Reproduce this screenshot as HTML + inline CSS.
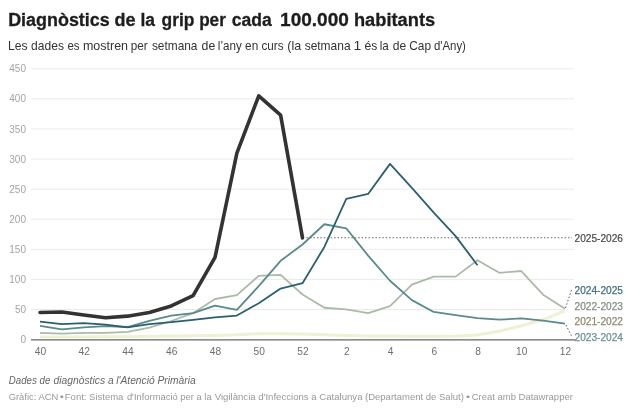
<!DOCTYPE html>
<html><head><meta charset="utf-8">
<style>
html,body{margin:0;padding:0;background:#fff;}
body{width:640px;height:411px;overflow:hidden;}
svg{display:block;will-change:transform;}
text{font-family:"Liberation Sans",sans-serif;}
.ax{font-size:10px;fill:#a4a4a4;}
.xl{font-size:10.2px;fill:#6e6e6e;}
.lb{font-size:10.15px;}
.halo{fill:#fff;stroke:#fff;stroke-width:3px;stroke-linejoin:round;}
</style></head><body>
<svg width="640" height="411" viewBox="0 0 640 411">
<text x="8.19" y="25.50" textLength="101.54" lengthAdjust="spacingAndGlyphs" style="font-weight:bold;fill:#1d1d1d;stroke:#1d1d1d;stroke-width:0.3px;font-size:18px">Diagnòstics</text>
<text x="114.53" y="25.50" textLength="21.10" lengthAdjust="spacingAndGlyphs" style="font-weight:bold;fill:#1d1d1d;stroke:#1d1d1d;stroke-width:0.3px;font-size:18px">de</text>
<text x="140.38" y="25.50" textLength="14.51" lengthAdjust="spacingAndGlyphs" style="font-weight:bold;fill:#1d1d1d;stroke:#1d1d1d;stroke-width:0.3px;font-size:18px">la</text>
<text x="161.55" y="25.50" textLength="32.92" lengthAdjust="spacingAndGlyphs" style="font-weight:bold;fill:#1d1d1d;stroke:#1d1d1d;stroke-width:0.3px;font-size:18px">grip</text>
<text x="199.13" y="25.50" textLength="26.70" lengthAdjust="spacingAndGlyphs" style="font-weight:bold;fill:#1d1d1d;stroke:#1d1d1d;stroke-width:0.3px;font-size:18px">per</text>
<text x="231.80" y="25.50" textLength="40.00" lengthAdjust="spacingAndGlyphs" style="font-weight:bold;fill:#1d1d1d;stroke:#1d1d1d;stroke-width:0.3px;font-size:18px">cada</text>
<text x="280.06" y="25.50" textLength="68.85" lengthAdjust="spacingAndGlyphs" style="font-weight:bold;fill:#1d1d1d;stroke:#1d1d1d;stroke-width:0.3px;font-size:18px">100.000</text>
<text x="353.97" y="25.50" textLength="81.16" lengthAdjust="spacingAndGlyphs" style="font-weight:bold;fill:#1d1d1d;stroke:#1d1d1d;stroke-width:0.3px;font-size:18px">habitants</text>
<text x="8.10" y="50.40" textLength="19.57" lengthAdjust="spacingAndGlyphs" style="fill:#333;font-size:11.9px">Les</text>
<text x="31.09" y="50.40" textLength="32.83" lengthAdjust="spacingAndGlyphs" style="fill:#333;font-size:11.9px">dades</text>
<text x="67.41" y="50.40" textLength="12.10" lengthAdjust="spacingAndGlyphs" style="fill:#333;font-size:11.9px">es</text>
<text x="82.91" y="50.40" textLength="45.15" lengthAdjust="spacingAndGlyphs" style="fill:#333;font-size:11.9px">mostren</text>
<text x="130.74" y="50.40" textLength="16.94" lengthAdjust="spacingAndGlyphs" style="fill:#333;font-size:11.9px">per</text>
<text x="151.92" y="50.40" textLength="45.55" lengthAdjust="spacingAndGlyphs" style="fill:#333;font-size:11.9px">setmana</text>
<text x="201.58" y="50.40" textLength="13.73" lengthAdjust="spacingAndGlyphs" style="fill:#333;font-size:11.9px">de</text>
<text x="217.87" y="50.40" textLength="23.85" lengthAdjust="spacingAndGlyphs" style="fill:#333;font-size:11.9px">l’any</text>
<text x="245.10" y="50.40" textLength="13.17" lengthAdjust="spacingAndGlyphs" style="fill:#333;font-size:11.9px">en</text>
<text x="261.40" y="50.40" textLength="22.10" lengthAdjust="spacingAndGlyphs" style="fill:#333;font-size:11.9px">curs</text>
<text x="287.32" y="50.40" textLength="13.92" lengthAdjust="spacingAndGlyphs" style="fill:#333;font-size:11.9px">(la</text>
<text x="304.67" y="50.40" textLength="45.91" lengthAdjust="spacingAndGlyphs" style="fill:#333;font-size:11.9px">setmana</text>
<text x="353.56" y="50.40" textLength="7.72" lengthAdjust="spacingAndGlyphs" style="fill:#333;font-size:11.9px">1</text>
<text x="364.59" y="50.40" textLength="12.75" lengthAdjust="spacingAndGlyphs" style="fill:#333;font-size:11.9px">és</text>
<text x="379.71" y="50.40" textLength="9.07" lengthAdjust="spacingAndGlyphs" style="fill:#333;font-size:11.9px">la</text>
<text x="392.89" y="50.40" textLength="13.46" lengthAdjust="spacingAndGlyphs" style="fill:#333;font-size:11.9px">de</text>
<text x="409.31" y="50.40" textLength="21.79" lengthAdjust="spacingAndGlyphs" style="fill:#333;font-size:11.9px">Cap</text>
<text x="433.91" y="50.40" textLength="32.03" lengthAdjust="spacingAndGlyphs" style="fill:#333;font-size:11.9px">d'Any)</text>

<line x1="31" x2="565" y1="309.55" y2="309.55" stroke="#ebebeb" stroke-width="1"/>
<line x1="31" x2="574" y1="279.45" y2="279.45" stroke="#ebebeb" stroke-width="1"/>
<line x1="31" x2="574" y1="249.35" y2="249.35" stroke="#ebebeb" stroke-width="1"/>
<line x1="31" x2="574" y1="219.25" y2="219.25" stroke="#ebebeb" stroke-width="1"/>
<line x1="31" x2="574" y1="189.15" y2="189.15" stroke="#ebebeb" stroke-width="1"/>
<line x1="31" x2="574" y1="159.05" y2="159.05" stroke="#ebebeb" stroke-width="1"/>
<line x1="31" x2="574" y1="128.95" y2="128.95" stroke="#ebebeb" stroke-width="1"/>
<line x1="31" x2="574" y1="98.85" y2="98.85" stroke="#ebebeb" stroke-width="1"/>
<line x1="31" x2="574" y1="68.75" y2="68.75" stroke="#ebebeb" stroke-width="1"/>
<text x="26" y="343.25" text-anchor="end" class="ax">0</text>
<text x="26" y="313.15" text-anchor="end" class="ax">50</text>
<text x="26" y="283.05" text-anchor="end" class="ax">100</text>
<text x="26" y="252.95" text-anchor="end" class="ax">150</text>
<text x="26" y="222.85" text-anchor="end" class="ax">200</text>
<text x="26" y="192.75" text-anchor="end" class="ax">250</text>
<text x="26" y="162.65" text-anchor="end" class="ax">300</text>
<text x="26" y="132.55" text-anchor="end" class="ax">350</text>
<text x="26" y="102.45" text-anchor="end" class="ax">400</text>
<text x="26" y="72.35" text-anchor="end" class="ax">450</text>
<text x="40.50" y="354.6" text-anchor="middle" class="xl">40</text>
<text x="84.25" y="354.6" text-anchor="middle" class="xl">42</text>
<text x="128.00" y="354.6" text-anchor="middle" class="xl">44</text>
<text x="171.75" y="354.6" text-anchor="middle" class="xl">46</text>
<text x="215.50" y="354.6" text-anchor="middle" class="xl">48</text>
<text x="259.25" y="354.6" text-anchor="middle" class="xl">50</text>
<text x="303.00" y="354.6" text-anchor="middle" class="xl">52</text>
<text x="346.75" y="354.6" text-anchor="middle" class="xl">2</text>
<text x="390.50" y="354.6" text-anchor="middle" class="xl">4</text>
<text x="434.25" y="354.6" text-anchor="middle" class="xl">6</text>
<text x="478.00" y="354.6" text-anchor="middle" class="xl">8</text>
<text x="521.75" y="354.6" text-anchor="middle" class="xl">10</text>
<text x="565.50" y="354.6" text-anchor="middle" class="xl">12</text>

<line x1="31" x2="575" y1="339.9" y2="339.9" stroke="#666" stroke-width="1.25"/>
<polyline points="40.00,336.94 61.88,336.94 83.75,336.94 105.62,336.64 127.50,336.64 149.38,336.34 171.25,336.04 193.12,335.74 215.00,335.44 236.88,334.83 258.75,333.63 280.62,333.63 302.50,333.93 324.38,334.83 346.25,335.44 368.12,336.04 390.00,336.04 411.88,336.28 433.75,336.28 455.62,336.04 477.50,335.07 499.38,331.22 521.25,325.80 543.12,319.78 565.00,310.75" fill="none" stroke="#eef1d4" stroke-width="3" stroke-linejoin="round"/>
<polyline points="40.00,332.79 61.88,333.57 83.75,332.79 105.62,332.79 127.50,331.94 149.38,327.61 171.25,320.99 193.12,313.16 215.00,299.01 236.88,295.10 258.75,275.84 280.62,274.87 302.50,294.50 324.38,307.74 346.25,309.31 368.12,313.16 390.00,306.06 411.88,284.69 433.75,276.62 455.62,276.62 477.50,260.19 499.38,272.83 521.25,271.02 543.12,294.68 565.00,308.77" fill="none" stroke="#aabba7" stroke-width="1.8" stroke-linejoin="round"/>
<polyline points="40.00,325.98 61.88,329.42 83.75,327.31 105.62,326.04 127.50,327.01 149.38,320.99 171.25,315.57 193.12,313.16 215.00,305.58 236.88,309.85 258.75,286.07 280.62,260.79 302.50,244.53 324.38,224.25 346.25,228.28 368.12,255.61 390.00,280.77 411.88,300.10 433.75,311.96 455.62,315.09 477.50,318.16 499.38,319.66 521.25,318.46 543.12,320.69 565.00,323.58" fill="none" stroke="#5a8a8a" stroke-width="1.8" stroke-linejoin="round"/>
<polyline points="40.00,321.65 61.88,324.06 83.75,323.16 105.62,324.60 127.50,327.31 149.38,324.06 171.25,322.19 193.12,319.78 215.00,317.38 236.88,315.57 258.75,303.23 280.62,288.60 302.50,283.24 324.38,246.94 346.25,198.78 368.12,193.97 390.00,163.87 411.88,187.95 433.75,212.63 455.62,236.11 477.50,265.30" fill="none" stroke="#2a6070" stroke-width="1.8" stroke-linejoin="round"/>
<polyline points="40.00,312.56 61.88,311.96 83.75,314.97 105.62,317.68 127.50,316.17 149.38,312.56 171.25,305.94 193.12,295.70 215.00,257.48 236.88,153.03 258.75,95.84 280.62,115.10 302.50,237.91" fill="none" stroke="#333333" stroke-width="3.6" stroke-linejoin="round" stroke-linecap="round"/>
<line x1="306.6" x2="572" y1="237.8" y2="237.8" stroke="#666" stroke-width="1.1" stroke-dasharray="1.5 1.94"/>
<line x1="565.5" y1="308" x2="571.5" y2="290" stroke="#555" stroke-width="1" stroke-dasharray="1.5 2"/>
<line x1="566" y1="325" x2="572" y2="337" stroke="#555" stroke-width="1" stroke-dasharray="1.5 2"/>
<text x="574.5" y="241.6" class="lb halo">2025-2026</text>
<text x="574.5" y="241.6" class="lb" style="fill:#4a4a4a;stroke:#4a4a4a;stroke-width:0.2px">2025-2026</text>
<text x="574.5" y="294" class="lb halo">2024-2025</text>
<text x="574.5" y="294" class="lb" style="fill:#3f6e7e;stroke:#3f6e7e;stroke-width:0.25px">2024-2025</text>
<text x="574.5" y="309.6" class="lb halo">2022-2023</text>
<text x="574.5" y="309.6" class="lb" style="fill:#838d84;stroke:#838d84;stroke-width:0.25px">2022-2023</text>
<text x="574.5" y="325.3" class="lb halo">2021-2022</text>
<text x="574.5" y="325.3" class="lb" style="fill:#8d896f;stroke:#8d896f;stroke-width:0.25px">2021-2022</text>
<text x="574.5" y="340.8" class="lb" style="fill:#6b9192;stroke:#6b9192;stroke-width:0.25px">2023-2024</text>
<text x="8.81" y="384.00" textLength="41.54" lengthAdjust="spacingAndGlyphs" style="fill:#666;font-size:10px;font-style:italic">Dades de</text>
<text x="53.57" y="384.00" textLength="60.09" lengthAdjust="spacingAndGlyphs" style="fill:#666;font-size:10px;font-style:italic">diagnòstics a</text>
<text x="116.25" y="384.00" textLength="79.40" lengthAdjust="spacingAndGlyphs" style="fill:#666;font-size:10px;font-style:italic">l'Atenció Primària</text>
<text x="8.63" y="399.80" textLength="49.64" lengthAdjust="spacingAndGlyphs" style="fill:#999;font-size:9.5px">Gràfic: ACN</text>
<text x="59.74" y="399.80" textLength="4.02" lengthAdjust="spacingAndGlyphs" style="fill:#999;font-size:9.5px">•</text>
<text x="64.82" y="399.80" textLength="58.58" lengthAdjust="spacingAndGlyphs" style="fill:#999;font-size:9.5px">Font: Sistema</text>
<text x="126.90" y="399.80" textLength="84.79" lengthAdjust="spacingAndGlyphs" style="fill:#999;font-size:9.5px">d'Informació per a la</text>
<text x="214.75" y="399.80" textLength="147.75" lengthAdjust="spacingAndGlyphs" style="fill:#999;font-size:9.5px">Vigilància d'Infeccions a Catalunya</text>
<text x="365.01" y="399.80" textLength="98.86" lengthAdjust="spacingAndGlyphs" style="fill:#999;font-size:9.5px">(Departament de Salut)</text>
<text x="465.94" y="399.80" textLength="4.02" lengthAdjust="spacingAndGlyphs" style="fill:#999;font-size:9.5px">•</text>
<text x="471.73" y="399.80" textLength="101.13" lengthAdjust="spacingAndGlyphs" style="fill:#999;font-size:9.5px">Creat amb Datawrapper</text>
</svg>
</body></html>
